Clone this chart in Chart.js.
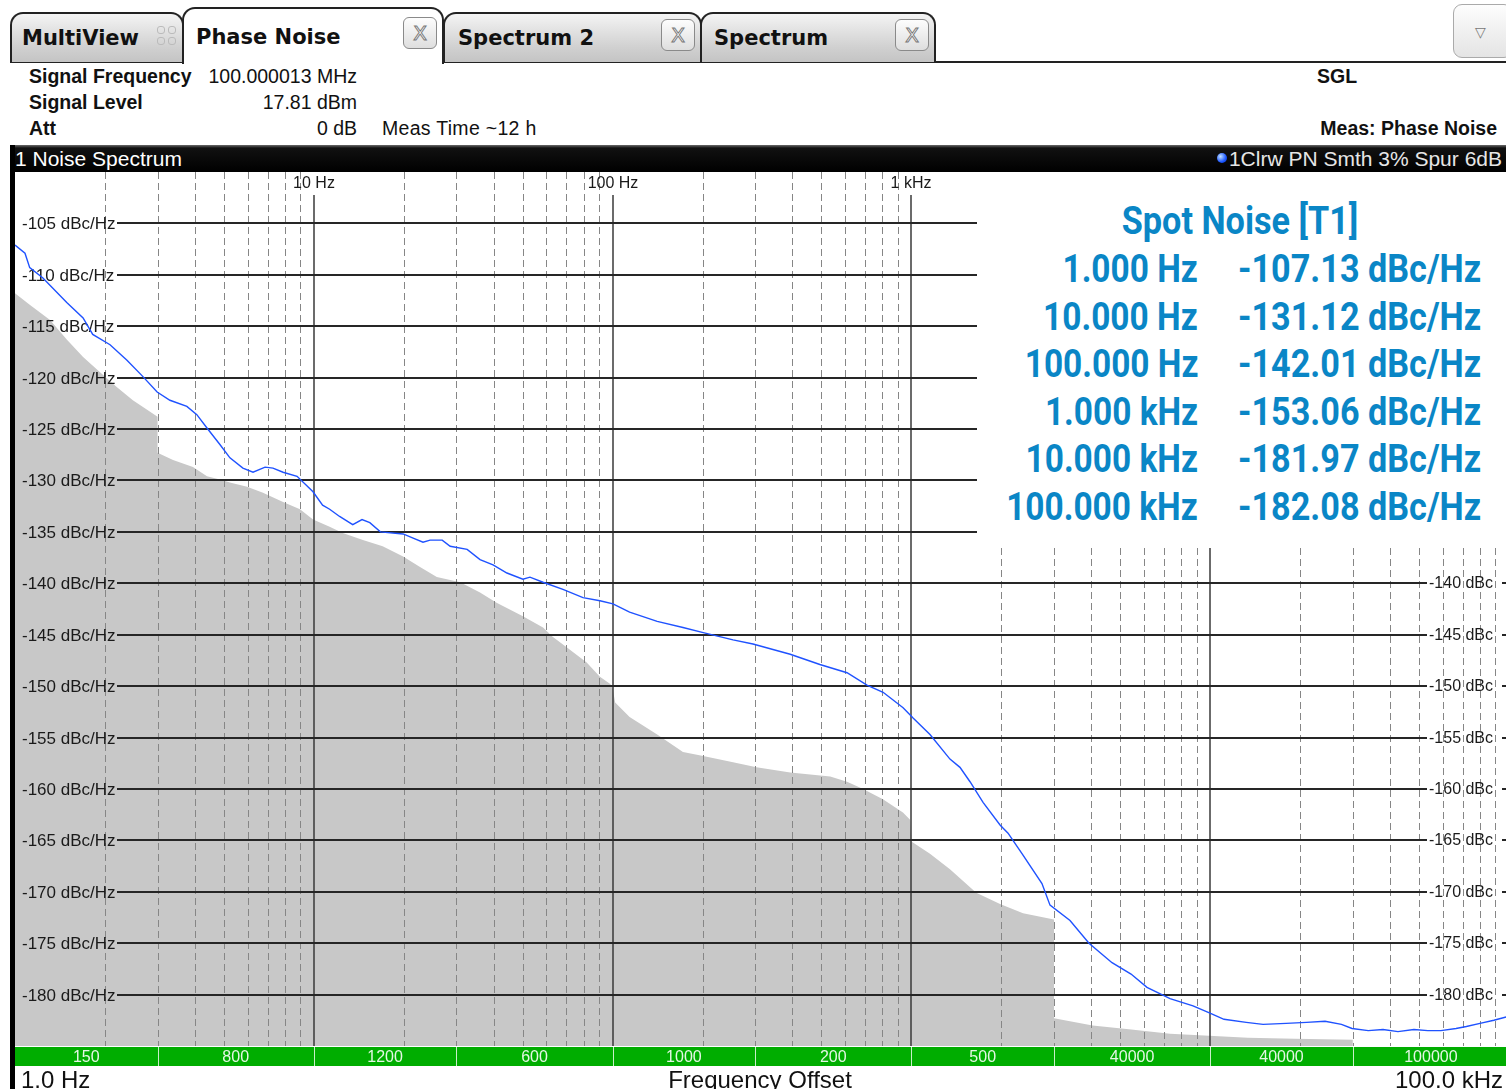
<!DOCTYPE html>
<html>
<head>
<meta charset="utf-8">
<script src="https://cdn.jsdelivr.net/npm/chart.js@4.4.0/dist/chart.umd.min.js"></script>
<style>
html, body { margin: 0; padding: 0; width: 1506px; height: 1089px; overflow: hidden; background: #fff; color: #111; font-family: "Liberation Sans", Arial, sans-serif; }
.t { position: absolute; white-space: nowrap; line-height: 1; }
.tab { position: absolute; top: 12px; height: 50px; box-sizing: border-box; border: 2px solid #222; border-bottom: none; border-radius: 13px 13px 0 0; background: linear-gradient(#f4f4f4, #d0d0d0 70%, #c4c4c4); }
.tab.on { top: 7px; height: 57px; background: #fff; z-index: 2; }
.tl { font: bold 21px "DejaVu Sans", sans-serif; color: #111; }
.x { position: absolute; width: 34px; height: 32px; box-sizing: border-box; border: 1px solid #8a8a8a; border-radius: 6px; background: linear-gradient(#fdfdfd, #dedede); font: 20px "DejaVu Sans", sans-serif; color: #fff; -webkit-text-stroke: 1px #777; text-align: center; line-height: 30px; z-index: 3; }
.mv { position: absolute; left: 157px; top: 26px; width: 20px; height: 20px; z-index: 3; }
.mv i { position: absolute; width: 8px; height: 8px; border: 1px solid #bbb; border-radius: 3px; box-sizing: border-box; }
.lbl { font-size: 19.5px; font-weight: bold; }
.val { font-size: 19.5px; }
#spot { position: absolute; left: 977px; top: 172px; width: 529px; height: 376px; background: #fff; color: #0a86c6; font: bold 38px Roboto, sans-serif; }
#spot div { position: absolute; white-space: nowrap; line-height: 38px; }
</style>
</head>
<body>

<!-- tab row -->
<div class="t" style="left:10px;top:61px;width:1496px;height:2px;background:#222"></div>
<div class="tab" style="left:10px;width:174px"></div>
<div class="tab on" style="left:182px;width:262px"></div>
<div class="tab" style="left:443px;width:259px"></div>
<div class="tab" style="left:700px;width:236px"></div>
<div class="t tl" style="left:22px;top:26px;z-index:3">MultiView</div>
<div class="mv"><i style="left:0;top:0"></i><i style="left:11px;top:0"></i><i style="left:0;top:11px"></i><i style="left:11px;top:11px"></i></div>
<div class="t tl" style="left:196px;top:25px;z-index:3">Phase Noise</div>
<div class="t tl" style="left:458px;top:26px;z-index:3">Spectrum 2</div>
<div class="t tl" style="left:714px;top:26px;z-index:3">Spectrum</div>
<div class="x" style="left:403px;top:17px">X</div>
<div class="x" style="left:661px;top:19px">X</div>
<div class="x" style="left:895px;top:19px">X</div>
<div class="t" style="left:1453px;top:4px;width:60px;height:54px;box-sizing:border-box;border:1px solid #aaa;border-radius:9px;background:linear-gradient(#fdfdfd,#e4e4e4)"></div>
<div class="t" style="left:1475px;top:24px;font:14px 'DejaVu Sans';color:#777">&#9661;</div>

<!-- header info -->
<div class="t lbl" style="left:29px;top:67px">Signal Frequency</div>
<div class="t lbl" style="left:29px;top:93px">Signal Level</div>
<div class="t lbl" style="left:29px;top:119px">Att</div>
<div class="t val" style="left:0;width:357px;text-align:right;top:67px">100.000013 MHz</div>
<div class="t val" style="left:0;width:357px;text-align:right;top:93px">17.81 dBm</div>
<div class="t val" style="left:0;width:357px;text-align:right;top:119px">0 dB</div>
<div class="t val" style="left:382px;top:119px;letter-spacing:0.3px">Meas Time ~12 h</div>
<div class="t lbl" style="left:1317px;top:67px">SGL</div>
<div class="t lbl" style="left:0;width:1497px;text-align:right;top:119px">Meas: Phase Noise</div>

<!-- window title bar -->
<div class="t" style="left:12px;top:145px;width:1494px;height:27px;background:linear-gradient(#6a6a6a,#111 3px,#000)"></div>
<div class="t" style="left:10px;top:145px;width:5px;height:944px;background:#000"></div>
<div class="t" style="left:15px;top:148px;font-size:21px;color:#fff">1 Noise Spectrum</div>
<div class="t" style="left:1217px;top:153px;width:10px;height:10px;border-radius:50%;background:radial-gradient(circle at 35% 35%,#bfe0ff,#1a55ff 60%,#0030c0)"></div>
<div class="t" style="left:0;width:1502px;text-align:right;top:148px;font-size:21px;color:#e6e6e6">1Clrw PN Smth 3% Spur 6dB</div>

<canvas id="pn" width="1510" height="917" style="position:absolute;left:0;top:172px"></canvas>
<div id="spot"></div>

<script>
// measured trace (offset frequency in Hz, level in dBc/Hz)
const traceFreq = [1, 1.08, 1.12, 1.24, 1.49, 1.69, 1.82, 2.08, 2.37, 2.68, 2.99, 3.30, 3.76, 4.06, 4.39, 4.85, 5.24, 5.79, 6.26, 6.87, 7.30, 7.89, 8.79, 9.94,
  10.7, 11.3, 12.2, 13.5, 14.5, 15.4, 16.7, 19.9, 21.5, 23.2, 24.5, 26.9, 28.6, 32.6, 36.0, 39.8, 44.3, 50.1, 52.9, 58.5, 68.2, 79.6, 90.7,
  100.3, 114, 141, 172, 201, 253, 295, 393, 494, 609, 710, 804, 938,
  1013, 1154, 1346, 1454, 1571, 1737, 1980, 2106, 2345, 2735, 2910, 3395, 3930, 4693, 5433, 6144, 7338, 8759,
  9984, 11120, 13200, 15030, 17950, 21000, 24230, 27500, 29830, 33800, 37870, 42500, 48060, 53500, 59170, 66480, 72000, 79980, 89000, 100000];
const traceLevel = [-107.1, -107.9, -109.3, -110.3, -112.7, -114.2, -115.8, -116.8, -118.3, -119.9, -121.4, -122.2, -122.8, -123.6, -124.9, -126.5, -127.8, -128.8, -129.2, -128.7, -128.8, -129.2, -129.6, -131.1,
  -132.4, -132.8, -133.5, -134.3, -133.8, -134.1, -135.0, -135.2, -135.6, -136.0, -135.8, -135.8, -136.4, -136.7, -137.7, -138.2, -139.0, -139.6, -139.4, -139.9, -140.6, -141.4, -141.7,
  -142.0, -142.8, -143.7, -144.3, -144.8, -145.5, -145.9, -146.9, -147.9, -148.7, -149.9, -150.6, -152.1,
  -153.1, -154.7, -157.1, -157.9, -159.3, -161.3, -163.5, -164.3, -166.3, -169.2, -171.3, -172.8, -175.0, -176.9, -178.0, -179.3, -180.4, -181.1,
  -181.8, -182.4, -182.7, -182.9, -182.8, -182.7, -182.6, -182.9, -183.3, -183.5, -183.4, -183.6, -183.4, -183.5, -183.5, -183.3, -183.1, -182.8, -182.5, -182.1];

// gray area (sensitivity of the instrument), steps at each half decade
const floorFreq = [1, 1.12, 1.31, 1.49, 1.69, 1.93, 2.19, 2.48, 2.76, 3, 3, 3.38, 3.94, 4.39, 4.85, 5.24, 5.98, 6.76, 7.89, 8.99, 9.94,
  11.3, 12.5, 14.6, 17.0, 19.9, 22.6, 25.8, 30.9, 36.0, 40.9, 50.1, 58.5, 63.0, 70.0, 81.9, 90.7, 98.2,
  100, 102, 114, 141, 172, 201, 253, 303, 393, 535, 609, 689, 803, 937, 990,
  1000, 1154, 1346, 1648, 1980, 2364, 3000, 3000, 4040, 5440, 7338, 9910, 13370, 19200, 30000, 30000, 100000];
const floorLevel = [-111.8, -112.9, -114.4, -116.3, -118.0, -119.5, -120.9, -122.2, -123.1, -123.8, -127.3, -128.0, -128.7, -129.6, -129.9, -130.2, -130.6, -131.2, -132.1, -132.8, -133.8,
  -134.5, -135.1, -135.8, -136.4, -137.4, -138.4, -139.4, -139.9, -140.9, -141.9, -143.2, -144.3, -145.2, -146.2, -147.7, -149.1, -149.8,
  -150.2, -151.6, -153.0, -154.7, -156.4, -156.8, -157.4, -157.9, -158.4, -158.8, -159.3, -160.0, -161.0, -162.3, -163.0,
  -165.1, -166.3, -167.8, -170.1, -171.2, -172.1, -172.7, -182.3, -183.0, -183.4, -183.8, -184.0, -184.2, -184.3, -184.4, -190, -190];

const decadeTicks = [10, 100, 1000, 10000];
const decadeLabels = ['10 Hz', '100 Hz', '1 kHz', '10 kHz'];
const levelTicks = [-105, -110, -115, -120, -125, -130, -135, -140, -145, -150, -155, -160, -165, -170, -175, -180];

// averages per half decade (green bar)
const avgEdges = [1, 3, 10, 30, 100, 300, 1000, 3000, 10000, 30000, 100000];
const avgCounts = [150, 800, 1200, 600, 1000, 200, 500, 40000, 40000, 100000];

const spotFreq = ['1.000 Hz', '10.000 Hz', '100.000 Hz', '1.000 kHz', '10.000 kHz', '100.000 kHz'];
const spotLevel = [-107.13, -131.12, -142.01, -153.06, -181.97, -182.08];

// spot noise table
const spot = document.getElementById('spot');
let html = '<div style="left:0;width:526px;text-align:center;top:30px;transform:scaleX(0.9)">Spot Noise [T1]</div>';
spotFreq.forEach((f, i) => {
  const top = 78 + i * 47.6;
  html += `<div style="right:${529 - 221}px;top:${top}px;transform:scaleX(0.88);transform-origin:right">${f}</div>`;
  html += `<div style="left:261px;top:${top}px;transform:scaleX(0.9);transform-origin:left">${spotLevel[i].toFixed(2)} dBc/Hz</div>`;
});
spot.innerHTML = html;

const TABLE_X = 977, TABLE_B = 376;   // spot table covers the grid up to here (canvas px)

function seg(ctx, x0, y0, x1, y1) {
  ctx.beginPath(); ctx.moveTo(x0, y0); ctx.lineTo(x1, y1); ctx.stroke();
}

function drawGrid(chart) {
  const { ctx, chartArea: a, scales: { x, y } } = chart;
  ctx.save();
  ctx.strokeStyle = '#868686'; ctx.lineWidth = 1; ctx.setLineDash([7, 4]);
  for (let d = 1; d < 100000; d *= 10) {
    for (let k = 2; k <= 9; k++) {
      const px = Math.round(x.getPixelForValue(k * d)) + 0.5;
      seg(ctx, px, px > TABLE_X ? TABLE_B : a.top, px, a.bottom);
    }
  }
  ctx.setLineDash([]);
  ctx.strokeStyle = '#3a3a3a'; ctx.lineWidth = 1.5;
  ctx.font = '16px "Liberation Sans"'; ctx.fillStyle = '#1a1a1a';
  ctx.textAlign = 'center'; ctx.textBaseline = 'middle';
  decadeTicks.forEach((v, i) => {
    const px = Math.round(x.getPixelForValue(v));
    if (px > TABLE_X) { seg(ctx, px, TABLE_B, px, a.bottom); return; }
    seg(ctx, px, a.top + 23, px, a.bottom);
    ctx.fillText(decadeLabels[i], px, a.top + 12);
  });
  ctx.strokeStyle = '#262626'; ctx.lineWidth = 2;
  levelTicks.forEach(v => {
    const py = Math.round(y.getPixelForValue(v));
    const wide = py > TABLE_B;
    seg(ctx, 117, py, wide ? 1427 : TABLE_X, py);
    ctx.textAlign = 'left';
    ctx.font = '17px "Liberation Sans"';
    ctx.fillText(`${v} dBc/Hz`, 22, py + 1);
    if (wide) {
      ctx.font = '16px "Liberation Sans"';
      ctx.fillText(`${v} dBc`, 1429, py + 1);
      seg(ctx, 1502, py, a.right, py);
    }
  });
  ctx.restore();
}

function drawAvgBar(chart) {
  const { ctx, chartArea: a, scales: { x } } = chart;
  const top = a.bottom + 1, h = 19;
  ctx.save();
  ctx.fillStyle = '#00ad00';
  ctx.fillRect(a.left, top, a.right - a.left, h);
  ctx.strokeStyle = '#c8eec8'; ctx.lineWidth = 1;
  ctx.font = '16px "Liberation Sans"'; ctx.fillStyle = '#e4f7e4';
  ctx.textAlign = 'center'; ctx.textBaseline = 'middle';
  avgCounts.forEach((n, i) => {
    const x0 = x.getPixelForValue(avgEdges[i]), x1 = x.getPixelForValue(avgEdges[i + 1]);
    if (i > 0) seg(ctx, Math.round(x0) + 0.5, top, Math.round(x0) + 0.5, top + h);
    ctx.fillText(String(n), (x0 + x1) / 2, top + h / 2 + 1);
  });
  ctx.fillStyle = '#111'; ctx.font = '24px "Liberation Sans"'; ctx.textBaseline = 'alphabetic';
  const yb = chart.height - 1;
  ctx.textAlign = 'left'; ctx.fillText(`${x.min.toFixed(1)} Hz`, 21, yb);
  ctx.textAlign = 'center'; ctx.fillText('Frequency Offset', 760, yb);
  ctx.textAlign = 'right'; ctx.fillText(`${(x.max / 1000).toFixed(1)} kHz`, 1503, yb);
  ctx.restore();
}

const analyzerPlugin = {
  id: 'analyzer',
  afterDatasetDraw(chart, args) { if (args.index === 1) drawGrid(chart); },
  afterDraw(chart) { drawAvgBar(chart); }
};

new Chart(document.getElementById('pn'), {
  type: 'line',
  data: {
    datasets: [
      { label: 'Trace 1', data: traceFreq.map((f, i) => ({ x: f, y: traceLevel[i] })),
        borderColor: '#1f52ff', borderWidth: 1.4, pointRadius: 0, tension: 0, fill: false, order: 0 },
      { label: 'Sensitivity', data: floorFreq.map((f, i) => ({ x: f, y: floorLevel[i] })),
        borderWidth: 0, borderColor: 'rgba(0,0,0,0)', backgroundColor: '#c8c8c8', pointRadius: 0, tension: 0, fill: 'start', order: 1 }
    ]
  },
  options: {
    responsive: false, animation: false, devicePixelRatio: 1, events: [],
    layout: { padding: { left: 15, right: 1, top: 0, bottom: 43 } },
    plugins: { legend: { display: false }, tooltip: { enabled: false } },
    scales: {
      x: { type: 'logarithmic', min: 1, max: 100000, display: false },
      y: { min: -185, max: -100, display: false }
    }
  },
  plugins: [analyzerPlugin]
});
</script>
</body>
</html>
